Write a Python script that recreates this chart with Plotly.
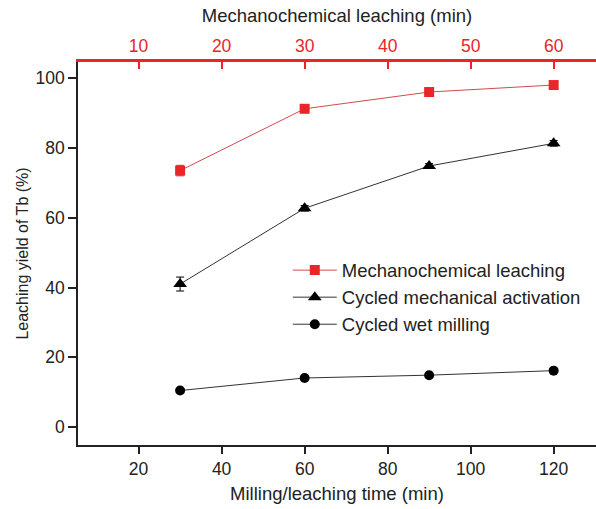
import plotly.graph_objects as go

# Milling / leaching time (min) on the bottom axis
mill_time = [30, 60, 90, 120]
# Mechanochemical leaching time (min) on the top axis
leach_time = [15, 30, 45, 60]

# Leaching yield of Tb (%)
mech_leach = [73.5, 91.2, 96.0, 98.0]
mech_leach_err = [1.5, 0.8, 0.6, 0.5]
cycled_activation = [41.0, 62.7, 74.8, 81.3]
cycled_activation_err = [2.0, 0.8, 0.7, 0.8]
cycled_wet = [10.5, 14.1, 14.9, 16.2]
cycled_wet_err = [0.5, 0.4, 0.4, 0.4]

bottom_ticks = [20, 40, 60, 80, 100, 120]
top_ticks = [10, 20, 30, 40, 50, 60]
y_ticks = [0, 20, 40, 60, 80, 100]

RED = "#e8262a"
INK = "#222222"
FONT = "Liberation Sans, Arial, sans-serif"
TICK_SIZE = 17.5
TITLE_SIZE = 18.5

x_range = [5.4, 130.2]

fig = go.Figure()

fig.add_trace(go.Scatter(
    x=leach_time, y=mech_leach, xaxis="x2", yaxis="y",
    name="Mechanochemical leaching", mode="lines+markers",
    line=dict(color="#d24a4d", width=1),
    marker=dict(symbol="square", size=10, color=RED),
    error_y=dict(type="data", array=mech_leach_err, color=RED, thickness=1, width=4),
))
fig.add_trace(go.Scatter(
    x=mill_time, y=cycled_activation, xaxis="x", yaxis="y",
    name="Cycled mechanical activation", mode="lines+markers",
    line=dict(color="#333333", width=1),
    marker=dict(symbol="triangle-up", size=12, color="black"),
    error_y=dict(type="data", array=cycled_activation_err, color="black", thickness=1, width=4),
))
fig.add_trace(go.Scatter(
    x=mill_time, y=cycled_wet, xaxis="x", yaxis="y",
    name="Cycled wet milling", mode="lines+markers",
    line=dict(color="#333333", width=1),
    marker=dict(symbol="circle", size=10, color="black"),
    error_y=dict(type="data", array=cycled_wet_err, color="black", thickness=1, width=4),
))

fig.update_layout(
    width=596, height=509,
    margin=dict(l=78, r=0, t=62, b=64),
    paper_bgcolor="white", plot_bgcolor="white",
    font=dict(family=FONT, size=TICK_SIZE, color=INK),
    showlegend=True,
    legend=dict(
        x=0.405, y=0.505, xanchor="left", yanchor="top",
        bgcolor="rgba(0,0,0,0)", font=dict(size=TITLE_SIZE, color=INK),
        tracegroupgap=0, itemwidth=44,
    ),
    xaxis=dict(
        range=x_range, tickvals=bottom_ticks,
        showline=True, linecolor=INK, linewidth=1.5,
        ticks="outside", ticklen=7, tickwidth=1.5, tickcolor=INK,
        tickfont=dict(size=TICK_SIZE, color=INK),
        showgrid=False, zeroline=False,
        title=dict(text="Milling/leaching time (min)", standoff=9,
                   font=dict(size=TITLE_SIZE, color=INK)),
    ),
    xaxis2=dict(
        range=[x_range[0] / 2, x_range[1] / 2], tickvals=top_ticks,
        overlaying="x", side="top", anchor="y",
        showline=True, linecolor=RED, linewidth=2.5,
        ticks="inside", ticklen=7, tickwidth=1.5, tickcolor=RED,
        tickfont=dict(color=RED, size=TICK_SIZE),
        showgrid=False, zeroline=False,
        title=dict(text="Mechanochemical leaching (min)", standoff=9,
                   font=dict(color=INK, size=TITLE_SIZE)),
    ),
    yaxis=dict(
        range=[-5.1, 104.6], tickvals=y_ticks,
        showline=True, linecolor=INK, linewidth=1.5,
        ticks="outside", ticklen=8, tickwidth=1.5, tickcolor=INK,
        tickfont=dict(size=TICK_SIZE, color=INK),
        showgrid=False, zeroline=False,
        title=dict(text="Leaching yield of Tb (%)", standoff=3,
                   font=dict(size=16, color=INK)),
    ),
)

fig.write_html("out.html")
